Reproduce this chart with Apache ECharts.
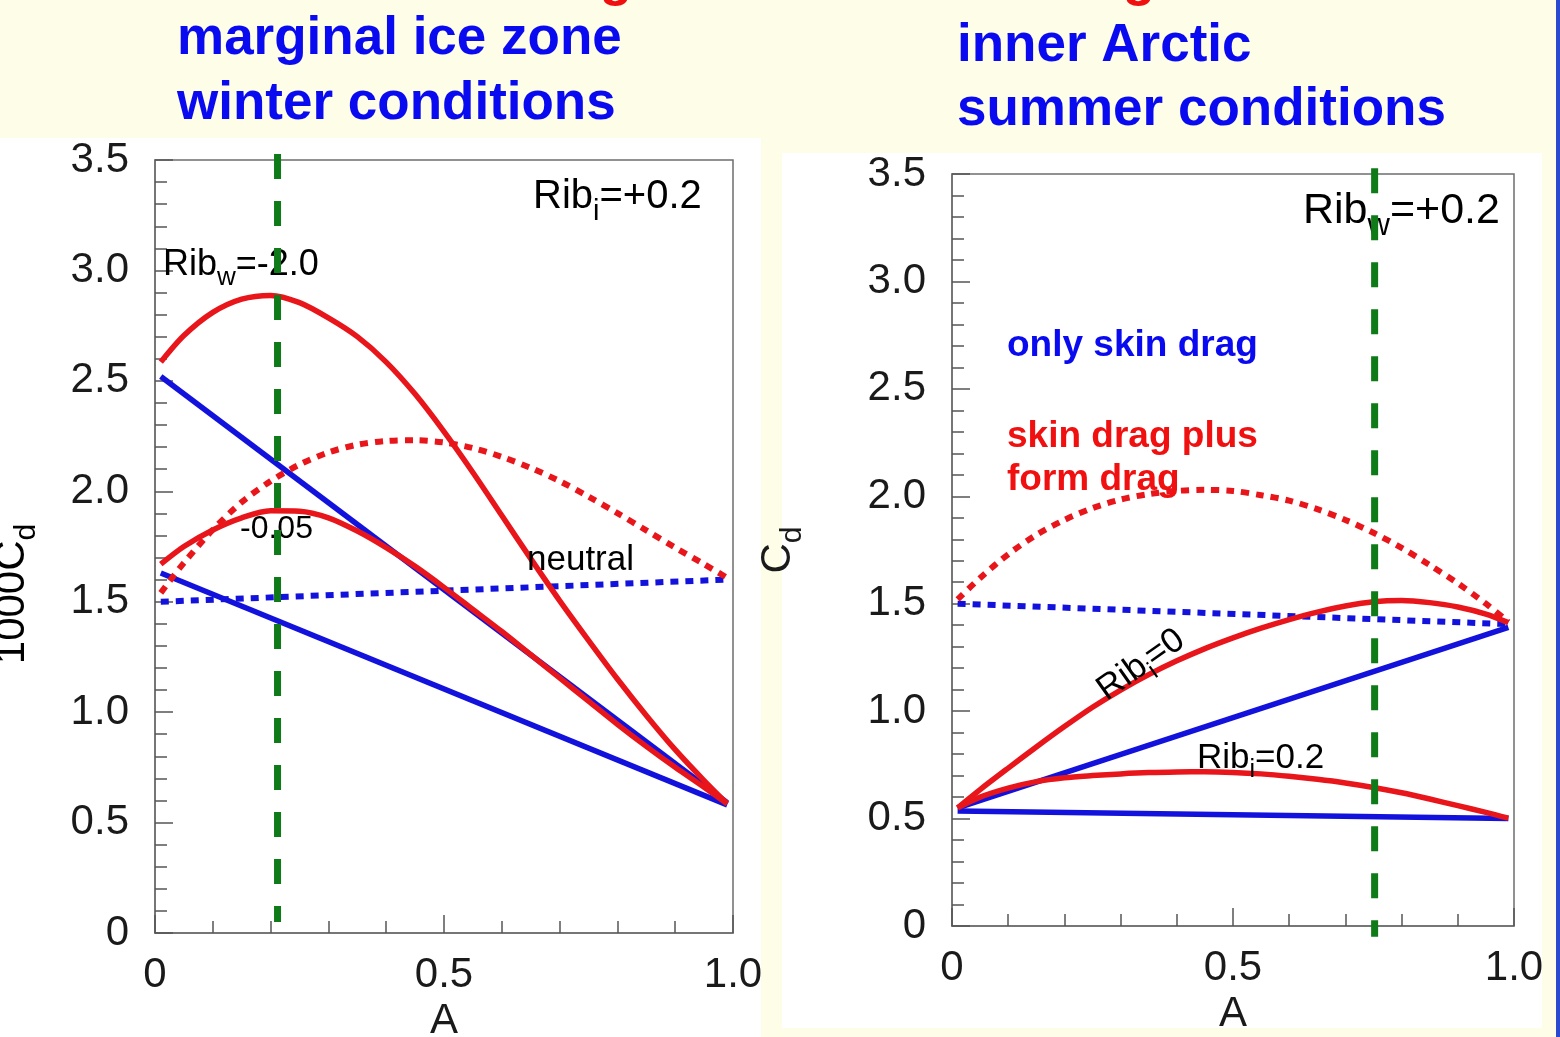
<!DOCTYPE html>
<html>
<head>
<meta charset="utf-8">
<script src="https://cdn.jsdelivr.net/npm/echarts@6/dist/echarts.min.js"></script>
<style>
html,body{margin:0;padding:0;background:#fdfde8;}
#chart{width:1560px;height:1037px;}
</style>
</head>
<body>
<div id="chart"></div>
<script>
// ---------- data ----------
const aFine = [0.01, 0.05, 0.10, 0.15, 0.20, 0.25, 0.30, 0.35, 0.40, 0.45, 0.50,
               0.55, 0.60, 0.65, 0.70, 0.75, 0.80, 0.85, 0.90, 0.95, 0.99];
const aEnds = [0.01, 0.99];

// left panel: marginal ice zone, winter (1000 Cd)
const winterRedRibWm2 = [2.585, 2.705, 2.81, 2.87, 2.887, 2.854, 2.785, 2.70, 2.585, 2.44, 2.27,
                         2.085, 1.89, 1.695, 1.505, 1.325, 1.15, 0.985, 0.83, 0.69, 0.585];
const winterBlueRibWm2 = [2.52, 0.59];
const winterRedRibWm005 = [1.67, 1.75, 1.825, 1.88, 1.912, 1.91, 1.88, 1.82, 1.745, 1.66, 1.565,
                           1.465, 1.365, 1.26, 1.155, 1.05, 0.945, 0.845, 0.75, 0.66, 0.585];
const winterBlueRibWm005 = [1.63, 0.58];
const winterRedNeutral = [1.54, 1.676, 1.826, 1.951, 2.046, 2.121, 2.176, 2.211, 2.228, 2.231, 2.221,
                          2.196, 2.156, 2.106, 2.046, 1.976, 1.901, 1.823, 1.745, 1.67, 1.608];
const winterBlueNeutral = [1.50, 1.60];
const winterMarkA = 0.212;
const winterMarkRange = [3.527, 0.05];

// right panel: inner Arctic, summer (Cd)
const summerRedNeutral = [1.52, 1.62, 1.73, 1.82, 1.89, 1.945, 1.985, 2.01, 2.025, 2.03, 2.025,
                          2.005, 1.98, 1.94, 1.89, 1.83, 1.76, 1.68, 1.595, 1.50, 1.415];
const summerBlueNeutral = [1.50, 1.405];
const summerRedRibI0 = [0.55, 0.635, 0.735, 0.833, 0.928, 1.018, 1.098, 1.17, 1.234, 1.291, 1.341,
                        1.386, 1.426, 1.461, 1.489, 1.509, 1.515, 1.505, 1.485, 1.452, 1.412];
const summerBlueRibI0 = [0.55, 1.39];
const summerRedRibI02 = [0.55, 0.60, 0.642, 0.672, 0.69, 0.70, 0.708, 0.714, 0.717, 0.718, 0.715,
                         0.708, 0.697, 0.683, 0.666, 0.645, 0.62, 0.591, 0.56, 0.529, 0.502];
const summerBlueRibI02 = [0.535, 0.50];
const summerMarkA = 0.752;
const summerMarkRange = [3.527, -0.05];

const xTickLabels = ['0', '0.5', '1.0'];
const yTickLabels = ['0', '0.5', '1.0', '1.5', '2.0', '2.5', '3.0', '3.5'];

// ---------- style ----------
const FONT = '"Liberation Sans", Arial, Helvetica, sans-serif';
const RED = '#e8161b';
const BLUE = '#1212dc';
const GREEN = '#0f7a18';
const TXT = '#1a1a1a';
const AX = '#6e6e6e';

function line(idx, a, vals, color, dotted) {
  return {
    type: 'line', xAxisIndex: idx, yAxisIndex: idx,
    data: a.map((x, i) => [x, vals[i]]),
    showSymbol: false, silent: true, z: 3,
    smooth: a.length > 2 ? 0.3 : false,
    lineStyle: { color: color, width: dotted ? 6 : 5.5, type: dotted ? [8, 7] : 'solid', cap: 'butt', join: 'round' }
  };
}
function mark(idx, a, range) {
  return {
    type: 'line', xAxisIndex: idx, yAxisIndex: idx, clip: false,
    data: range.map(v => [a, v]), showSymbol: false, silent: true, z: 10,
    lineStyle: { color: GREEN, width: 7, type: [25, 22], cap: 'butt' }
  };
}
function rich(fm, color, bold) {
  const fs = Math.round(fm * 0.72);
  return {
    n: { fontSize: fm, fontFamily: FONT, color: color || TXT, fontWeight: bold ? 'bold' : 'normal',
         lineHeight: Math.round(fm * 1.2), verticalAlign: 'middle' },
    s: { fontSize: fs, fontFamily: FONT, color: color || TXT,
         lineHeight: Math.round(fs * 1.2), padding: [Math.round(fm * 0.72), 0, 0, 0], verticalAlign: 'middle' }
  };
}
function label(x, y, text, fm, opts) {
  opts = opts || {};
  return {
    type: 'text', x: x, y: y, z: opts.z || 5, rotation: opts.rotation || 0,
    style: { text: text, rich: rich(fm, opts.color, opts.bold),
      textAlign: opts.align || 'left', textVerticalAlign: 'middle', verticalAlign: 'middle' }
  };
}
function title(x, y, text, color, size, align) {
  return {
    type: 'text', x: x, y: y, z: 5,
    style: { text: text, fill: color, font: 'bold ' + size + 'px ' + FONT,
      textAlign: align || 'left', textVerticalAlign: 'middle', verticalAlign: 'middle' }
  };
}

function xAxis(idx, nameGap) {
  return {
    gridIndex: idx, type: 'value', min: 0, max: 1, interval: 0.5,
    name: 'A', nameLocation: 'middle', nameGap: nameGap,
    nameTextStyle: { fontSize: 42, fontFamily: FONT, color: TXT },
    axisLine: { show: true, lineStyle: { color: AX, width: 1.5 } },
    axisTick: { show: true, inside: true, length: 18, lineStyle: { color: '#555', width: 1.5 } },
    minorTick: { show: true, splitNumber: 5, length: 12, lineStyle: { color: '#555', width: 1.5 } },
    splitLine: { show: false },
    axisLabel: { fontSize: 42, fontFamily: FONT, color: TXT, margin: 21, showMinLabel: true, showMaxLabel: true,
      formatter: v => xTickLabels[Math.round(v / 0.5)] }
  };
}
function yAxis(idx, name, nameGap) {
  const a = {
    gridIndex: idx, type: 'value', min: 0, max: 3.5, interval: 0.5,
    axisLine: { show: true, lineStyle: { color: AX, width: 1.5 } },
    axisTick: { show: true, inside: true, length: 18, lineStyle: { color: '#555', width: 1.5 } },
    minorTick: { show: true, splitNumber: 5, length: 12, lineStyle: { color: '#555', width: 1.5 } },
    splitLine: { show: false },
    axisLabel: { fontSize: 42, fontFamily: FONT, color: TXT, margin: 26, showMinLabel: true, showMaxLabel: true,
      formatter: v => yTickLabels[Math.round(v / 0.5)] }
  };
  if (name) {
    a.name = name; a.nameLocation = 'middle'; a.nameGap = nameGap;
    a.nameTextStyle = { rich: rich(42) };
  }
  return a;
}

const option = {
  backgroundColor: '#fdfde8',
  animation: false,
  grid: [
    { left: 155, top: 160, width: 578, height: 773, outerBoundsMode: 'none', containLabel: false,
      show: true, borderColor: AX, borderWidth: 1.5, backgroundColor: 'rgba(0,0,0,0)' },
    { left: 952, top: 174, width: 562, height: 752, outerBoundsMode: 'none', containLabel: false,
      show: true, borderColor: AX, borderWidth: 1.5, backgroundColor: 'rgba(0,0,0,0)' }
  ],
  xAxis: [xAxis(0, 66), xAxis(1, 63)],
  yAxis: [yAxis(0, null, 0), yAxis(1, '{n|C}{s|d}', 149)],
  series: [
    line(0, aEnds, winterBlueRibWm2, BLUE, false),
    line(0, aEnds, winterBlueRibWm005, BLUE, false),
    line(0, aEnds, winterBlueNeutral, BLUE, true),
    line(0, aFine, winterRedNeutral, RED, true),
    line(0, aFine, winterRedRibWm2, RED, false),
    line(0, aFine, winterRedRibWm005, RED, false),
    mark(0, winterMarkA, winterMarkRange),
    line(1, aEnds, summerBlueNeutral, BLUE, true),
    line(1, aEnds, summerBlueRibI0, BLUE, false),
    line(1, aEnds, summerBlueRibI02, BLUE, false),
    line(1, aFine, summerRedNeutral, RED, true),
    line(1, aFine, summerRedRibI0, RED, false),
    line(1, aFine, summerRedRibI02, RED, false),
    mark(1, summerMarkA, summerMarkRange)
  ],
  graphic: [
    { type: 'rect', z: -10, shape: { x: 0, y: 138, width: 761, height: 899 }, style: { fill: '#ffffff' } },
    { type: 'rect', z: -10, shape: { x: 782, y: 153, width: 760, height: 875 }, style: { fill: '#ffffff' } },
    { type: 'rect', z: 100, shape: { x: 782, y: 1028, width: 778, height: 9 }, style: { fill: '#fdfde8' } },
    { type: 'rect', z: 100, shape: { x: 1556, y: 0, width: 4, height: 1037 }, style: { fill: '#2a4bd0' } },
    title(632, -20, 'drag', '#f01010', 53, 'right'),
    title(1155, -20, 'drag', '#f01010', 53, 'right'),
    title(177, 39, 'marginal ice zone', '#0a0af0', 53),
    title(177, 104, 'winter conditions', '#0a0af0', 53),
    title(957, 46, 'inner Arctic', '#0a0af0', 53),
    title(957, 110, 'summer conditions', '#0a0af0', 53),
    label(12, 594, '{n|1000C}{s|d}', 42, { rotation: Math.PI / 2, align: 'center' }),
    label(533, 197, '{n|Rib}{s|i}{n|=+0.2}', 40),
    label(163, 265, '{n|Rib}{s|w}{n|=-2.0}', 36),
    label(240, 529, '{n|-0.05}', 32),
    label(527, 560, '{n|neutral}', 35),
    label(1303, 211, '{n|Rib}{s|w}{n|=+0.2}', 43),
    title(1007, 346, 'only skin drag', '#0a0af0', 37),
    title(1007, 437, 'skin drag plus', '#f01010', 37),
    title(1007, 480, 'form drag', '#f01010', 37),
    label(1141, 665, '{n|Rib}{s|i}{n|=0}', 35, { rotation: 0.615, align: 'center' }),
    label(1197, 758, '{n|Rib}{s|i}{n|=0.2}', 35)
  ]
};

const chart = echarts.init(document.getElementById('chart'), null, { renderer: 'canvas' });
chart.setOption(option);
</script>
</body>
</html>
